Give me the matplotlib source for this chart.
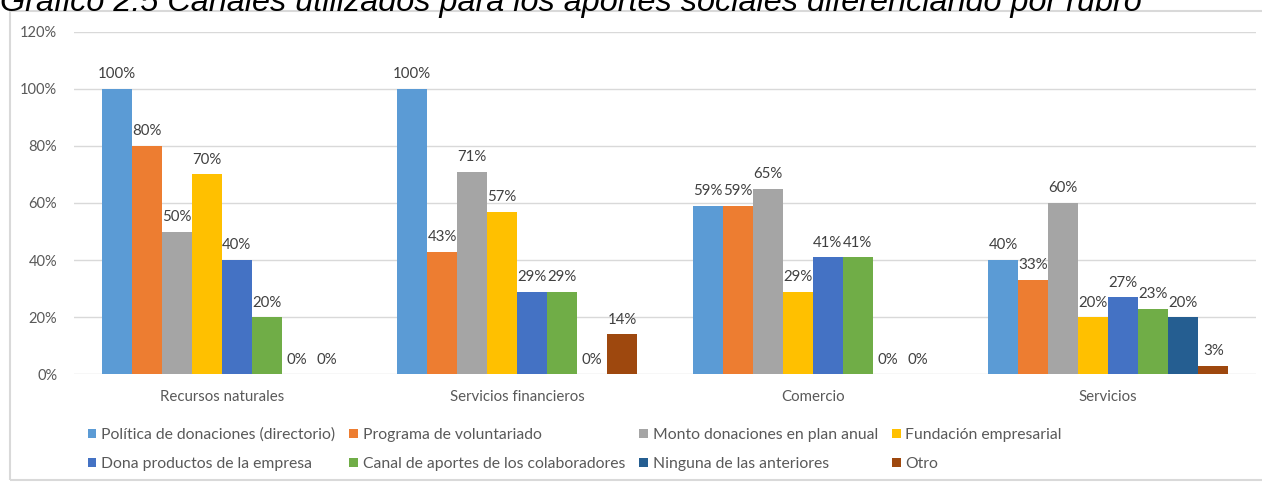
import matplotlib
matplotlib.use("Agg")
from matplotlib import pyplot as plt
from matplotlib.patches import Rectangle
import numpy as np

rubros = ["Recursos naturales", "Servicios financieros", "Comercio", "Servicios"]

canales = [
    "Política de donaciones (directorio)",
    "Programa de voluntariado",
    "Monto donaciones en plan anual",
    "Fundación empresarial",
    "Dona productos de la empresa",
    "Canal de aportes de los colaboradores",
    "Ninguna de las anteriores",
    "Otro",
]

# porcentaje por rubro, un arreglo por canal
politica = [100, 100, 59, 40]
voluntariado = [80, 43, 59, 33]
monto_plan = [50, 71, 65, 60]
fundacion = [70, 57, 29, 20]
dona_productos = [40, 29, 41, 27]
canal_colab = [20, 29, 41, 23]
ninguna = [0, 0, 0, 20]
otro = [0, 14, 0, 3]

series = [politica, voluntariado, monto_plan, fundacion,
          dona_productos, canal_colab, ninguna, otro]

colores = ["#5B9BD5", "#ED7D31", "#A5A5A5", "#FFC000",
           "#4472C4", "#70AD47", "#255E91", "#9E480E"]

titulo = "Gráfico 2.5 Canales utilizados para los aportes sociales diferenciando por rubro"

plt.rcParams["font.family"] = ["Lato", "DejaVu Sans"]

fig = plt.figure(figsize=(12.62, 4.82), dpi=100)
ax = fig.add_axes([74 / 1262, 1 - 374.3 / 482, 1182 / 1262, (374.3 - 31.7) / 482])

x = np.arange(len(rubros))
w = 30 / 295.5
handles = []
for i, (vals, col, nombre) in enumerate(zip(series, colores, canales)):
    pos = x + (i - 3.5) * w
    bars = ax.bar(pos, vals, width=w, color=col, label=nombre, zorder=3)
    handles.append(bars)
    for b, v in zip(bars, vals):
        ax.annotate(f"{v}%", (b.get_x() + b.get_width() / 2, v),
                    xytext=(0, 5.5), textcoords="offset points",
                    ha="center", va="bottom", fontsize=10.8, color="#404040")

ax.set_xlim(-0.5, 3.5)
ax.set_ylim(0, 120)
ax.set_yticks(range(0, 121, 20))
ax.set_yticklabels([f"{t}%" for t in range(0, 121, 20)])
ax.set_xticks(x)
ax.set_xticklabels(rubros)
ax.tick_params(axis="y", length=0, pad=12, labelsize=10.5, labelcolor="#595959")
ax.tick_params(axis="x", length=0, pad=11, labelsize=10.8, labelcolor="#595959")
ax.grid(axis="y", color="#D9D9D9", lw=1, zorder=0)
for s in ax.spines.values():
    s.set_visible(False)

# leyenda en filas de 4 (matplotlib llena por columnas)
orden = [0, 4, 1, 5, 2, 6, 3, 7]
fig.legend([handles[k] for k in orden], [canales[k] for k in orden],
           loc="upper left", bbox_to_anchor=(80 / 1262, 1 - 420 / 482),
           ncol=4, frameon=False, fontsize=11.3, labelcolor="#595959",
           handlelength=0.55, handleheight=0.55, handletextpad=0.3,
           columnspacing=0.9, labelspacing=0.95, borderpad=0)

# marco del gráfico
fig.patches.append(Rectangle((10 / 1262, 2 / 482), 1.0, 1 - 13 / 482,
                             transform=fig.transFigure, fill=False,
                             edgecolor="#D9D9D9", lw=1.5))

fig.text(0.0, 1 - 11 / 482, titulo, fontsize=23.3, style="italic",
         family="Liberation Sans", color="black", ha="left", va="baseline")

fig.savefig("out.png", dpi=100)
